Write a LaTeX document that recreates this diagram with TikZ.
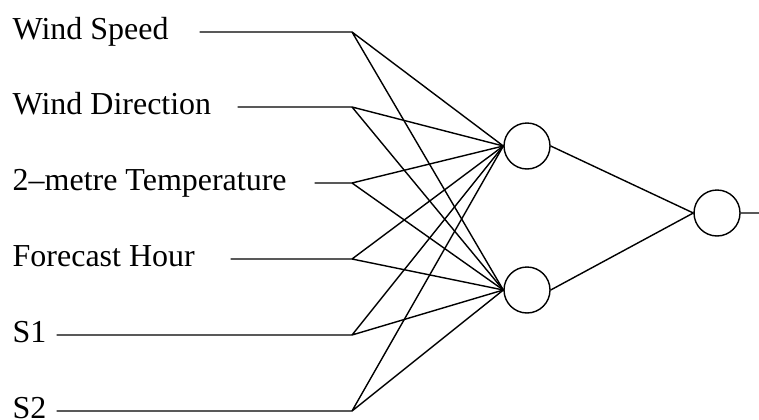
\documentclass[tikz,border=0pt]{standalone}
\usepackage{fontspec}
\setmainfont{Liberation Serif}
\begin{document}
\begin{tikzpicture}[x=0.02cm,y=-0.02cm,line join=round,line cap=round,line width=0.8pt,
	font=\fontsize{18.2}{20}\selectfont,
	unit/.style={circle,draw,minimum size=0.92cm,inner sep=0pt}]
	\useasboundingbox (0,0) rectangle (759,419);
	\path (527,146) node[unit] (h1) {}
	(527,290) node[unit] (h2) {}
	(717,213) node[unit] (o) {}
	(759,213) coordinate (out);
	\foreach \t/\y/\s/\i in {Wind Speed/32/200/1,Wind Direction/107/238/2,2--metre Temperature/183/315/3,
		Forecast Hour/259/231/4,S1/335/57/5,S2/411/57/6}{
		\node[anchor=base west,inner sep=0pt] (in\i) at (12,\y+7) {\t};
		\coordinate (s\i) at (\s,\y);
		\coordinate (j\i) at (352,\y);
		\draw (s\i)--(j\i)--(h1.west) (j\i)--(h2.west);
	}
	\draw (h1.east)--(o.west) (h2.east)--(o.west) (o.east)--(out);
\end{tikzpicture}
\end{document}
